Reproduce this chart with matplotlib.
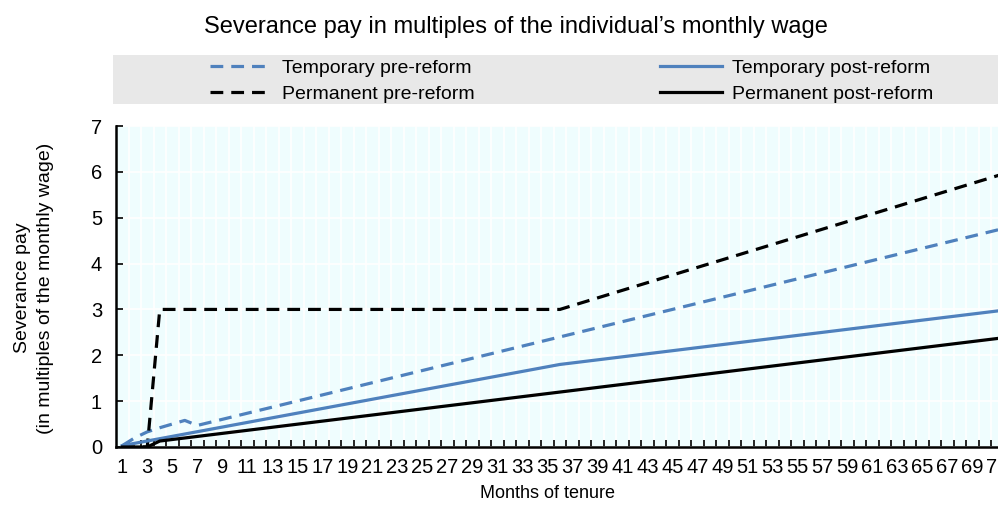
import numpy as np
import matplotlib.pyplot as plt
from matplotlib.lines import Line2D
from matplotlib.patches import Rectangle

plt.rcParams['font.family'] = ['Liberation Sans', 'DejaVu Sans']

# data: breakpoints (months of tenure, multiples of monthly wage)
months_temp_pre = [1, 2, 3, 4, 5, 6, 7, 36, 72]
temp_pre = [0.03, 0.2, 0.33, 0.42, 0.5, 0.58, 0.47, 2.4, 4.8]

months_perm_pre = [1, 2, 3, 4, 36, 72]
perm_pre = [0, 0, 0, 3, 3, 6]

months_temp_post = [1, 36, 72]
temp_post = [0.03, 1.8, 3.0]

months_perm_post = [1, 2, 3, 4, 72]
perm_post = [0, 0, 0, 0.13, 2.4]

all_months = list(range(1, 73))
tick_labels = [str(m) for m in range(1, 72, 2)]

BLUE = "#4F81BD"
LW = 2.3
DASH = (4, 2.5)

fig = plt.figure(figsize=(9.98, 5.09), dpi=100)
W, H = 998, 509
ax = fig.add_axes([116 / W, (H - 447) / H, 1 - 116 / W + 0.0005, (447 - 126) / H])
ax.set_facecolor("#EFFDFE")

ax.plot(months_temp_pre, temp_pre, color=BLUE, lw=LW, dashes=DASH, zorder=3)
ax.plot(months_perm_pre, perm_pre, color="black", lw=LW, dashes=DASH, zorder=3)
ax.plot(months_temp_post, temp_post, color=BLUE, lw=LW, zorder=3)
ax.plot(months_perm_post, perm_post, color="black", lw=LW, zorder=3)

ax.set_yticks(range(0, 8))
ax.set_xticks(range(1, 72, 2))
ax.set_xticklabels(tick_labels)
ax.set_xticks([m + 0.5 for m in all_months], minor=True)
ax.set_ylim(0, 7)
ax.set_xlim(0.5, 71.08)
ax.tick_params(axis="x", which="major", length=0, labelsize=14.5, pad=8)
ax.tick_params(axis="x", which="minor", direction="in", length=5, width=1.2)
ax.tick_params(axis="y", direction="in", length=5, width=1.2, labelsize=14.5, pad=10)

ax.grid(True, axis="y", color="white", lw=1.2, zorder=1)
ax.grid(True, axis="x", which="minor", color="white", lw=1.2, zorder=1)
ax.set_axisbelow(True)

for s in ["top", "right"]:
    ax.spines[s].set_visible(False)
for s in ["left", "bottom"]:
    ax.spines[s].set_linewidth(1.8)

fig.text(548 / W, 1 - 494 / H, "Months of tenure", ha="center", va="center", fontsize=13)
fig.text(34 / W, 1 - 288 / H, "Severance pay\n(in multiples of the monthly wage)",
         ha="center", va="center", rotation=90, fontsize=14, linespacing=1.45)

fig.text(516 / W, 1 - 27 / H, "Severance pay in multiples of the individual\u2019s monthly wage",
         ha="center", va="center", fontsize=17)

# legend band
fig.patches.append(Rectangle((113 / W, 1 - 104 / H), 1, 49 / H, transform=fig.transFigure,
                             facecolor="#E8E8E8", edgecolor="none", zorder=0))

h_tpre = Line2D([], [], color=BLUE, lw=LW, dashes=DASH)
h_ppre = Line2D([], [], color="black", lw=LW, dashes=DASH)
h_tpost = Line2D([], [], color=BLUE, lw=LW)
h_ppost = Line2D([], [], color="black", lw=LW)

leg_kw = dict(frameon=False, fontsize=14, handlelength=3.2, handletextpad=0.5,
              borderpad=0, borderaxespad=0, labelspacing=0.45, loc="upper left")
leg1 = fig.legend([h_tpre, h_ppre], ["Temporary pre-reform", "Permanent pre-reform"],
                  bbox_to_anchor=(210 / W, 1 - 59 / H), **leg_kw)
leg2 = fig.legend([h_tpost, h_ppost], ["Temporary post-reform", "Permanent post-reform"],
                  bbox_to_anchor=(660 / W, 1 - 59 / H), **leg_kw)

fig.savefig("out.png", dpi=100)
